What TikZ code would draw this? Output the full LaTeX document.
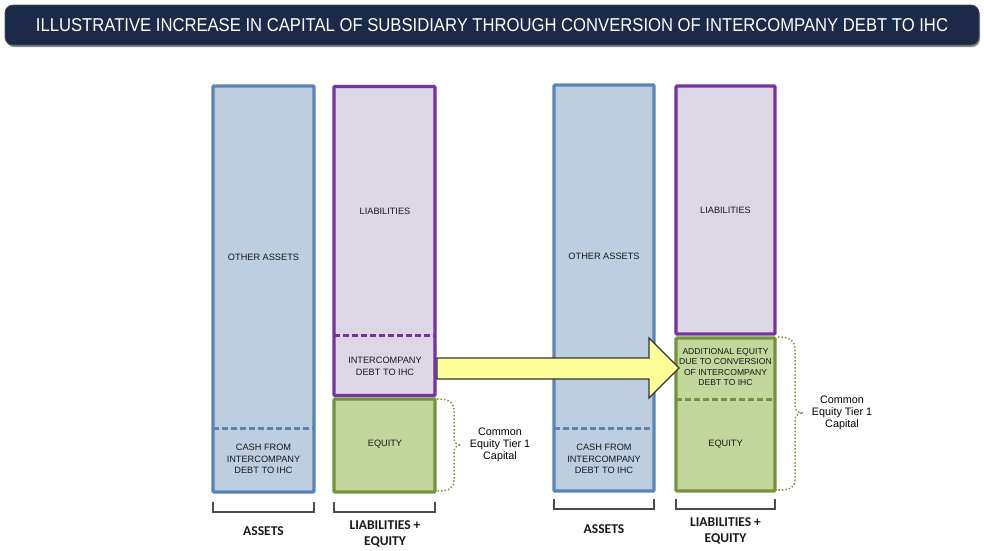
\documentclass[tikz,border=0pt]{standalone}
\usepackage{fontspec}
\setmainfont{Liberation Sans}
\newfontfamily\carl{Carlito}
\usetikzlibrary{calc}
\definecolor{navy}{HTML}{1B2A48}
\definecolor{bluebd}{HTML}{5B84B5}
\definecolor{bluefill}{HTML}{BCCEE0}
\definecolor{purbd}{HTML}{7334A2}
\definecolor{purfill}{HTML}{DDD6E5}
\definecolor{grnbd}{HTML}{76923C}
\definecolor{grnfill}{HTML}{C3D69B}
\definecolor{yel}{HTML}{FFFF99}
\begin{document}
\begin{tikzpicture}[x=1pt,y=-1pt,
  box/.style={draw, line width=3.2pt, inner sep=0pt, rounded corners=1pt},
  abox/.style={box, draw=bluebd, fill=bluefill},
  lbox/.style={box, draw=purbd, fill=purfill},
  ebox/.style={box, draw=grnbd, fill=grnfill},
  lbl/.style={font=\fontsize{9.2}{11.8}\selectfont, align=center, text=black!90, inner sep=0pt},
  captxt/.style={font=\fontsize{10.8}{11.7}\selectfont, align=center, text=black, inner sep=0pt},
  bot/.style={font=\carl\bfseries\fontsize{13.5}{16}\selectfont, align=center, text=black!90, inner sep=0pt},
  brk/.style={draw=black!70, line width=1.1pt},
  bracestyle/.style={draw=grnbd, line width=1.5pt, dash pattern=on 1.5pt off 2pt},
  dsh/.style={line width=3pt, dash pattern=on 5.5pt off 3.5pt}
]
\useasboundingbox (0,0) rectangle (984,550);
% title
\fill[black!45, rounded corners=8pt] (6,7) rectangle (980,47);
\node[draw=black!70, line width=0.8pt, fill=navy, rounded corners=8pt, minimum width=974pt, minimum height=40pt, inner sep=0pt] (title) at (492,25) {};
\node[text=white, inner sep=0pt] (ttext) at (title.center) {\resizebox{912pt}{13pt}{ILLUSTRATIVE INCREASE IN CAPITAL OF SUBSIDIARY THROUGH CONVERSION OF INTERCOMPANY DEBT TO IHC}};

% left pair
\node[abox, minimum width=101pt, minimum height=406pt] (a1) at (263.5,289) {};
\node[lbox, minimum width=101pt, minimum height=309pt] (l1) at (384.5,241) {};
\node[ebox, minimum width=101pt, minimum height=93pt] (e1) at (384.5,445.5) {};
\draw[dsh, draw=bluebd] ($(a1.west)+(2,139)$) coordinate (d1a) -- ($(a1.east)+(-2,139)$) coordinate (d1b);
\draw[dsh, draw=purbd] ($(l1.west)+(2,94)$) -- ($(l1.east)+(-2,94)$);

% right pair
\node[abox, minimum width=100pt, minimum height=406pt] (a2) at (604,288) {};
\node[lbox, minimum width=99pt, minimum height=248pt] (l2) at (725.5,210) {};
\node[ebox, minimum width=99pt, minimum height=153pt] (e2) at (725.5,414.5) {};
\draw[dsh, draw=bluebd] ($(a2.west)+(2,140)$) -- ($(a2.east)+(-2,140)$);
\draw[dsh, draw=grnbd] ($(e2.west)+(2,-15.5)$) -- ($(e2.east)+(-2,-15.5)$);

% block arrow
\draw[fill=yel, draw=black!80, line width=1.1pt, line join=miter]
  (437,358) -- (649,358) -- (649,338) -- (679,368) -- (649,398) -- (649,379) -- (437,379) -- cycle;

% labels in boxes
\node[lbl] (t1) at (263.5,257) {OTHER ASSETS};
\node[lbl] (t2) at (263.5,459) {CASH FROM\\INTERCOMPANY\\DEBT TO IHC};
\node[lbl] (t3) at (385,211) {LIABILITIES};
\node[lbl] (t4) at (385,366) {INTERCOMPANY\\DEBT TO IHC};
\node[lbl] (t5) at (385,444) {EQUITY};
\node[lbl] (t6) at (604,256) {OTHER ASSETS};
\node[lbl] (t7) at (604,459) {CASH FROM\\INTERCOMPANY\\DEBT TO IHC};
\node[lbl] (t8) at (725.5,210) {LIABILITIES};
\node[lbl, font=\fontsize{8.6}{10.6}\selectfont] (t9) at (725.5,367) {ADDITIONAL EQUITY\\DUE TO CONVERSION\\OF INTERCOMPANY\\DEBT TO IHC};
\node[lbl] (t10) at (725.5,444) {EQUITY};

% braces
\draw[bracestyle] (437,399) .. controls (451,399) and (454,403) .. (454,412) -- (454,437)
  .. controls (454,442) and (456,445) .. (461,445) coordinate (tip1)
  .. controls (456,445) and (454,448) .. (454,453) -- (454,480)
  .. controls (454,488) and (450,491) .. (437,491);
\node[captxt] (c1) at (500,445) {Common\\Equity Tier 1\\Capital};
\draw[bracestyle] (778,337) .. controls (791,337) and (795,341) .. (795,350) -- (795,405)
  .. controls (795,410) and (797,413) .. (803,413) coordinate (tip2)
  .. controls (797,413) and (795,416) .. (795,421) -- (795,480)
  .. controls (795,487) and (791,490) .. (778,490);
\node[captxt] (c2) at (842,413) {Common\\Equity Tier 1\\Capital};

% brackets
\draw[brk] (213,502) -- (213,512) -- (314,512) -- (314,502);
\draw[brk] (334,502) -- (334,512) -- (435,512) -- (435,502);
\draw[brk] (554,499) -- (554,509) -- (654,509) -- (654,499);
\draw[brk] (676,499) -- (676,509) -- (775,509) -- (775,499);
\node[bot] (b1) at (263.5,531) {ASSETS};
\node[bot] (b2) at (385,534) {LIABILITIES +\\EQUITY};
\node[bot] (b3) at (604,529) {ASSETS};
\node[bot] (b4) at (725.5,531) {LIABILITIES +\\EQUITY};
\end{tikzpicture}
\end{document}
